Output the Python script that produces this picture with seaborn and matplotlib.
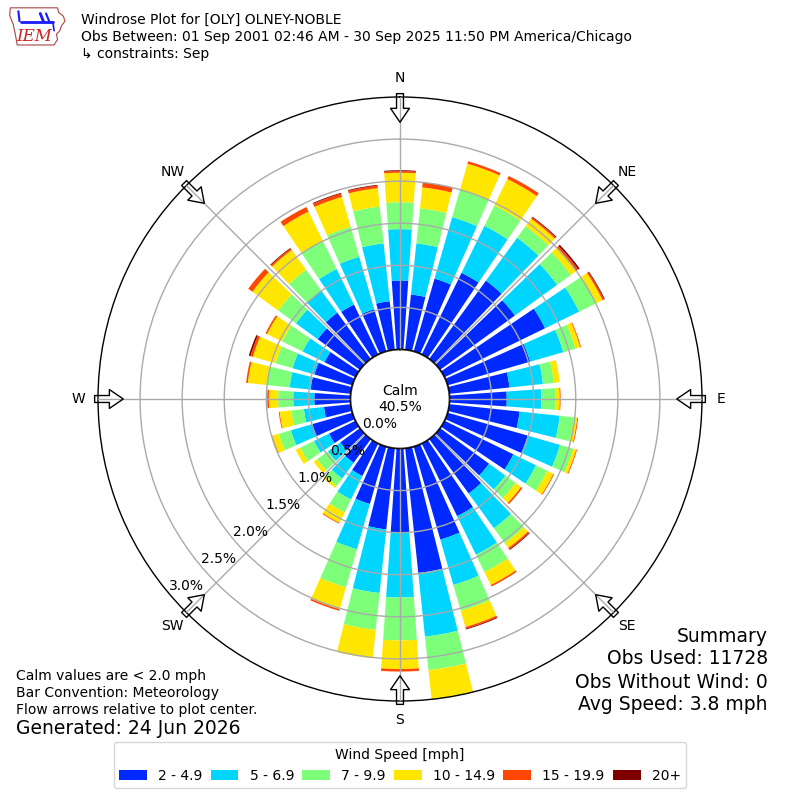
import numpy as np
import matplotlib
matplotlib.use("Agg")
import matplotlib.pyplot as plt
from matplotlib.patches import Patch, Polygon
import seaborn as sns

sns.set_theme(style="white")
plt.rcParams['font.family'] = ['DejaVu Sans']
plt.rcParams['text.color'] = 'black'
plt.rcParams['xtick.color'] = 'black'

directions = np.arange(0, 360, 10)
speed_bins = ["2 - 4.9", "5 - 6.9", "7 - 9.9", "10 - 14.9", "15 - 19.9", "20+"]

freq_2_5 = [0.82, 0.66, 0.90, 1.08, 1.15, 1.10, 1.33, 1.02, 0.72, 0.68,
            0.84, 0.99, 0.91, 0.72, 0.80, 0.96, 1.15, 1.49, 1.00, 0.97,
            0.71, 0.43, 0.35, 0.29, 0.35, 0.51, 0.32, 0.43, 0.48, 0.47,
            0.41, 0.62, 0.68, 0.66, 0.52, 0.58]
freq_5_7 = [0.61, 0.61, 0.76, 0.62, 0.63, 0.62, 0.45, 0.41, 0.40, 0.41,
            0.48, 0.40, 0.30, 0.24, 0.51, 0.51, 0.56, 0.76, 0.77, 0.76,
            0.56, 0.31, 0.23, 0.18, 0.20, 0.25, 0.24, 0.25, 0.25, 0.27,
            0.29, 0.32, 0.32, 0.47, 0.65, 0.69]
freq_7_10 = [0.32, 0.42, 0.34, 0.27, 0.17, 0.20, 0.23, 0.15, 0.13, 0.17,
             0.17, 0.16, 0.15, 0.15, 0.22, 0.23, 0.32, 0.40, 0.51, 0.44,
             0.47, 0.17, 0.11, 0.16, 0.18, 0.15, 0.15, 0.18, 0.28, 0.21,
             0.27, 0.26, 0.31, 0.37, 0.37, 0.44]
freq_10_15 = [0.35, 0.25, 0.32, 0.35, 0.11, 0.08, 0.08, 0.06, 0.07, 0.05,
              0.04, 0.04, 0.08, 0.08, 0.07, 0.17, 0.20, 0.39, 0.34, 0.34,
              0.27, 0.14, 0.03, 0.05, 0.06, 0.08, 0.14, 0.11, 0.22, 0.28,
              0.20, 0.38, 0.29, 0.39, 0.37, 0.22]
freq_15_20 = [0.02, 0.06, 0.03, 0.04, 0.02, 0.03, 0.02, 0.01, 0.00, 0.01,
              0.01, 0.01, 0.01, 0.02, 0.02, 0.02, 0.02, 0.00, 0.03, 0.00,
              0.02, 0.01, 0.00, 0.00, 0.00, 0.01, 0.01, 0.02, 0.02, 0.03,
              0.02, 0.06, 0.02, 0.06, 0.04, 0.03]
freq_20p = [0.01, 0.00, 0.00, 0.00, 0.01, 0.02, 0.01, 0.00, 0.00, 0.00,
            0.00, 0.00, 0.00, 0.00, 0.01, 0.00, 0.01, 0.00, 0.00, 0.00,
            0.00, 0.00, 0.00, 0.00, 0.00, 0.00, 0.00, 0.00, 0.00, 0.02,
            0.00, 0.00, 0.01, 0.00, 0.01, 0.01]

calm_pct = 40.5
ring_values = [0.0, 0.5, 1.0, 1.5, 2.0, 2.5, 3.0]
compass = ['N', 'NE', 'E', 'SE', 'S', 'SW', 'W', 'NW']

title_lines = ["Windrose Plot for [OLY] OLNEY-NOBLE",
               "Obs Between: 01 Sep 2001 02:46 AM - 30 Sep 2025 11:50 PM America/Chicago",
               "\u21b3 constraints: Sep"]
notes = ["Calm values are < 2.0 mph", "Bar Convention: Meteorology",
         "Flow arrows relative to plot center."]
generated = "Generated: 24 Jun 2026"
summary = ["Summary", "Obs Used: 11728", "Obs Without Wind: 0", "Avg Speed: 3.8 mph"]

# %% figure
series = [freq_2_5, freq_5_7, freq_7_10, freq_10_15, freq_15_20, freq_20p]
colors = plt.get_cmap('jet')(np.arange(1, 7) / 6.0)

fig = plt.figure(figsize=(8, 8), dpi=100)
ax = fig.add_axes([0.1225, 0.12375, 0.755, 0.755], projection='polar')
ax.set_theta_zero_location('N')
ax.set_theta_direction(-1)
ax.set_rorigin(-0.588)
ax.set_ylim(0, 3.0)
ax.set_axisbelow(False)

theta = np.deg2rad(directions)
bottom = np.zeros(len(directions))
for vals, color, label in zip(series, colors, speed_bins):
    vals = np.array(vals)
    ax.bar(theta, vals, width=np.deg2rad(8), bottom=bottom, color=color,
           edgecolor='none', linewidth=0, label=label, zorder=1)
    bottom += vals

ax.set_thetagrids(np.arange(0, 360, 45), labels=compass, fontsize=10)
# the outer 3.0% ring is the axes edge itself
ax.set_yticks(ring_values[1:-1])
ax.set_yticklabels([])
ax.grid(True, color='#aaaaaa', linewidth=1)
ax.spines['polar'].set_color('black')
ax.spines['polar'].set_linewidth(1)
ax.tick_params(axis='x', pad=1)

# calm circle
circ = np.linspace(0, 2 * np.pi, 361)
ax.plot(circ, np.zeros_like(circ), color='black', lw=1.2, zorder=3)
ax.text(0.5, 0.5, f"Calm\n{calm_pct}%", transform=ax.transAxes,
        ha='center', va='center', fontsize=10, zorder=6)

# radial labels
for v in ring_values:
    ax.text(np.deg2rad(230), v, f"{v:.1f}%", ha='left', va='bottom',
            fontsize=10, zorder=6)

# flow arrows
for ang in np.arange(0, 360, 45):
    t = np.deg2rad(ang)
    ax.annotate('', xy=(t, 2.70), xytext=(t, 3.04),
                arrowprops=dict(arrowstyle='simple,head_length=0.5,head_width=0.68,tail_width=0.25',
                                fc='none', ec='black', lw=1, shrinkA=0, shrinkB=0,
                                mutation_scale=20),
                annotation_clip=False, zorder=7)

# header text
for i, line in enumerate(title_lines):
    fig.text(0.101, 0.975 - i * 0.02125, line, ha='left', va='center', fontsize=10)

# IEM logo
lax = fig.add_axes([0.01, 0.94, 0.072, 0.054])
lax.set_xlim(0, 1)
lax.set_ylim(0, 1)
lax.axis('off')
iowa = [(0.04, 0.93), (0.86, 0.93), (0.88, 0.82), (0.96, 0.74), (0.99, 0.62),
        (0.93, 0.52), (0.90, 0.40), (0.84, 0.32), (0.86, 0.20), (0.80, 0.07),
        (0.16, 0.07), (0.13, 0.30), (0.09, 0.55), (0.03, 0.75)]
lax.add_patch(Polygon(iowa, closed=True, fill=False, ec='#aa4444', lw=0.8))
lax.plot([0.22, 0.78], [0.60, 0.60], color='#1a1aff', lw=2)
lax.plot([0.62, 0.56], [0.60, 0.80], color='#1a1aff', lw=2)
lax.plot([0.72, 0.66], [0.60, 0.80], color='#1a1aff', lw=1.5)
lax.plot([0.18, 0.20], [0.85, 0.62], color='#1a1aff', lw=1.5)
lax.plot([0.78, 0.80], [0.60, 0.40], color='#1a1aff', lw=1.2)
lax.text(0.45, 0.26, "IEM", color='#cc2222', fontsize=12, style='italic',
         family='DejaVu Serif', ha='center', va='center')

# notes and summary
for i, line in enumerate(notes):
    fig.text(0.02, 1 - (676 + i * 17) / 800, line, ha='left', va='center', fontsize=10)
fig.text(0.02, 1 - 729 / 800, generated, ha='left', va='center', fontsize=13.5)
for i, line in enumerate(summary):
    fig.text(0.96, 1 - (636 + i * 23) / 800, line, ha='right', va='center', fontsize=13.5)

handles = [Patch(facecolor=c, edgecolor='none') for c in colors]
fig.legend(handles, speed_bins, loc='lower center', bbox_to_anchor=(0.5, 0.006),
           ncol=6, title='Wind Speed [mph]', fontsize=10, title_fontsize=10,
           frameon=True, columnspacing=0.6, handlelength=2.0, handleheight=0.7,
           edgecolor='#cccccc', fancybox=True)

fig.savefig('out.png', dpi=100)
